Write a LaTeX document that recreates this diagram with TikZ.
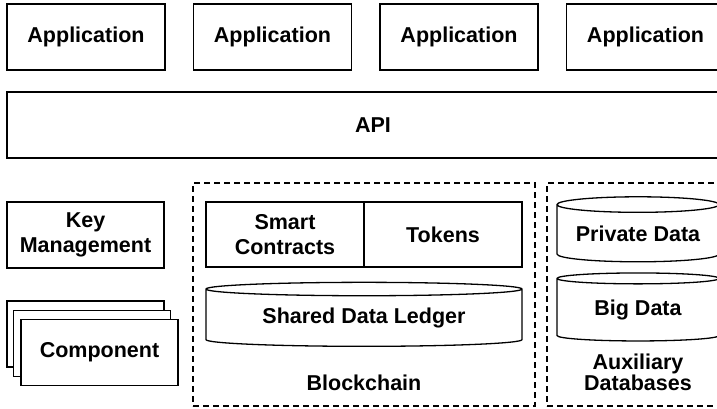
\documentclass[tikz,border=0pt]{standalone}
\usepackage{fontspec}
\setmainfont{Liberation Sans}
\usepackage{tikz}
\usetikzlibrary{shapes.geometric}
\tikzset{
    box/.style = {
        draw,
        fill           = white,
        line width     = 1.3pt,
        inner sep      = 0pt,
        align          = center,
        minimum width  = 158pt,
        minimum height = 66pt,
        font           = \fontsize{21.5}{25}\selectfont\bfseries,
    },
    db/.style = {
        box,
        shape              = cylinder,
        shape border rotate = 90,
    },
    group/.style = {
        draw,
        line width   = 1.2pt,
        dash pattern = on 6pt off 4pt,
        inner sep    = 0pt,
    },
    caption/.style = {
        align = center,
        font  = \fontsize{21.5}{21}\selectfont\bfseries,
    },
}

\begin{document}
\begin{tikzpicture}[x = 1pt, y = -1pt]
                    \useasboundingbox (0, 0) rectangle (717, 408);
                    \clip (0, 0) rectangle (717, 408);

                    % top layer
                    \coordinate (a1)  at ( 86,   37);
                    \coordinate (a2)  at (272.5, 37);
                    \coordinate (a3)  at (459,   37);
                    \coordinate (a4)  at (645.5, 37);
                    \coordinate (api) at (373,  125);

                    \node (App1) at (a1) [box] {Application};
                    \node (App2) at (a2) [box] {Application};
                    \node (App3) at (a3) [box] {Application};
                    \node (App4) at (a4) [box] {Application};
                    \node (API)  at (api) [box, minimum width = 732pt] {API};

                    % left column
                    \coordinate (k)  at (85.5, 235);
                    \coordinate (c3) at (85.5, 334);
                    \coordinate (c2) at (92,   343.5);
                    \coordinate (c1) at (99.5, 352.5);

                    \node (KeyMgmt) at (k)  [box, minimum width = 157pt] {Key\\Management};
                    \node (Comp3)   at (c3) [box, minimum width = 157pt] {};
                    \node (Comp2)   at (c2) [box, minimum width = 157pt] {};
                    \node (Comp)    at (c1) [box, minimum width = 157pt] {Component};

                    % blockchain
                    \coordinate (bc) at (364, 294.5);
                    \node (Blockchain) at (bc) [group, minimum width = 342pt, minimum height = 223pt] {};
                    \node (Smart)  at (285, 234.5) [box, minimum height = 65pt] {Smart\\Contracts};
                    \node (Tokens) at (443, 234.5) [box, minimum height = 65pt] {Tokens};
                    \node (Ledger) at (364, 318)   [db, minimum width = 316pt, minimum height = 64pt, aspect = 0.066] {Shared Data Ledger};
                    \node (BcLabel) at (364, 383) [caption] {Blockchain};

                    % auxiliary databases
                    \coordinate (ax) at (638, 294.5);
                    \node (Aux) at (ax) [group, minimum width = 182pt, minimum height = 223pt] {};
                    \node (Private) at (638, 233.5) [db, minimum width = 162pt, minimum height = 65pt, aspect = 0.125] {Private Data};
                    \node (BigData) at (638, 310)   [db, minimum width = 162pt, minimum height = 68pt, aspect = 0.125] {Big Data};
                    \node (AuxLabel) at (638, 372) [caption] {Auxiliary\\Databases};
                \end{tikzpicture}
\end{document}
